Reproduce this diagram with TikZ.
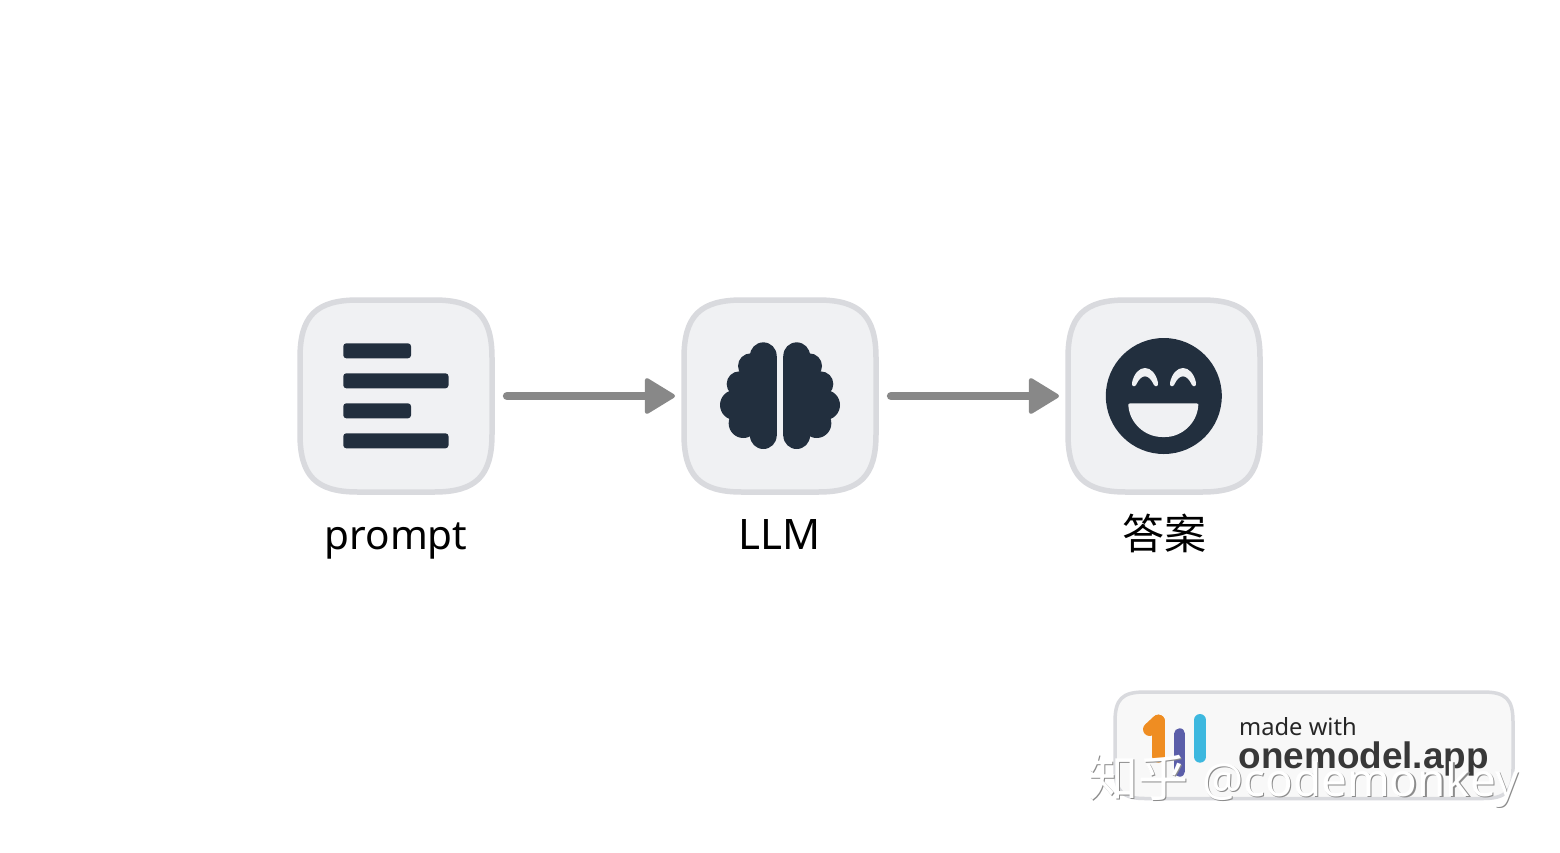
\documentclass[tikz,border=0pt]{standalone}
\usepackage{fontspec}
\setmainfont{Noto Sans}
\newfontfamily\cjkfont{Noto Sans CJK SC}
\newfontfamily\badgebold{Liberation Sans}
\usetikzlibrary{arrows.meta}
\definecolor{iconc}{HTML}{222F3E}
\definecolor{boxfill}{HTML}{F0F1F3}
\definecolor{boxline}{HTML}{D9DADE}
\definecolor{arrowc}{HTML}{888888}
\definecolor{badgefill}{HTML}{F8F8F8}
\definecolor{logoO}{HTML}{EF8D22}
\definecolor{logoP}{HTML}{5B5EA9}
\definecolor{logoC}{HTML}{3DB8DF}
\definecolor{wmshade}{HTML}{8C8C8C}
\tikzset{
  anchorbox/.style={minimum size=198pt,inner sep=0pt,outer sep=0pt},
  tilebox/.style={fill=boxfill,draw=boxline,line width=5.5pt},
  bar/.style={fill=iconc,draw=none,rounded corners=3pt},
  flow/.style={draw=arrowc,line width=8.3pt,line cap=round,shorten <=12pt,shorten >=6pt,
    -{Triangle[length=32pt,width=38pt,round,line width=4pt,fill=arrowc]}},
  caption/.style={anchor=base,inner sep=0pt,font=\fontsize{40.5}{48}\selectfont,text=black},
  tile/.pic={
    \draw[tilebox] (-96,-38) .. controls (-96,-80) and (-80,-96) .. (-38,-96)
      -- (38,-96) .. controls (80,-96) and (96,-80) .. (96,-38)
      -- (96,38) .. controls (96,80) and (80,96) .. (38,96)
      -- (-38,96) .. controls (-80,96) and (-96,80) .. (-96,38) -- cycle;
  },
  brainhalf/.pic={
    \fill[iconc] (212,228) circle (38);
    \fill[iconc] (178,282) circle (38);
    \fill[iconc] (165,345) circle (45);
    \fill[iconc] (190,400) circle (44);
    \fill[iconc] (190,230) rectangle (290,430);
    \fill[iconc] (250,197) circle (40);
    \fill[iconc] (250,437) circle (40);
    \fill[iconc] (250,197) rectangle (290,437);
  },
}
\begin{document}
\begin{tikzpicture}[x=1pt,y=-1pt]
\useasboundingbox (0,0) rectangle (1560,852);
\fill[white] (0,0) rectangle (1560,852);

% anchors
\node[anchorbox] (p) at (396,396) {};
\node[anchorbox] (l) at (780,396) {};
\node[anchorbox] (a) at (1164,396) {};

\pic at (396,396) {tile};
\pic at (780,396) {tile};
\pic at (1164,396) {tile};

% prompt icon
\fill[bar] (343.3,343.3) rectangle (411,358.3);
\fill[bar] (343.3,373.3) rectangle (448.5,388.3);
\fill[bar] (343.3,403.3) rectangle (411,418.3);
\fill[bar] (343.3,433.3) rectangle (448.5,448.3);

% brain icon
\begin{scope}[shift={(680,290)},x=.33333pt,y=-.33333pt]
  \pic {brainhalf};
\end{scope}
\begin{scope}[shift={(880,290)},x=-.33333pt,y=-.33333pt]
  \pic {brainhalf};
\end{scope}

% smile icon
\fill[iconc] (1163.8,396) circle (58);
\begin{scope}[shift={(1060,290)},x=.33333pt,y=-.33333pt]
  \fill[boxfill,rounded corners=1.5pt] (205,340) -- (415,340) -- (415,345) .. controls (410,400) and (365,441) .. (311,441)
     .. controls (255,441) and (210,400) .. (205,345) -- cycle;
  \fill[boxfill] (216,278) .. controls (222,250) and (238,234) .. (255,234)
     .. controls (272,234) and (288,250) .. (294,278)
     .. controls (296,290) and (286,292) .. (282,285)
     .. controls (274,268) and (265,259) .. (255,259)
     .. controls (245,259) and (236,268) .. (228,285)
     .. controls (224,292) and (214,290) .. (216,278) -- cycle;
  \fill[boxfill] (330,278) .. controls (336,250) and (352,234) .. (369,234)
     .. controls (386,234) and (402,250) .. (408,278)
     .. controls (410,290) and (400,292) .. (396,285)
     .. controls (388,268) and (379,259) .. (369,259)
     .. controls (359,259) and (350,268) .. (342,285)
     .. controls (338,292) and (328,290) .. (330,278) -- cycle;
\end{scope}

% connectors
\path[flow] (p.east) -- (l.west);
\path[flow] (l.east) -- (a.west);

% captions
\node[caption] (t1) at (396,549) {prompt};
\node[caption,font=\fontsize{42}{48}\selectfont] (t2) at (780,549) {LLM};
\node[caption,font=\cjkfont\fontsize{42}{48}\selectfont] (t3) at (1164,549) {答案};

% badge
\draw[fill=badgefill,draw=boxline,line width=3.5pt]
  (1115,722) .. controls (1115,699) and (1122,692) .. (1145,692)
  -- (1483,692) .. controls (1506,692) and (1513,699) .. (1513,722)
  -- (1513,768) .. controls (1513,791) and (1506,798.5) .. (1483,798.5)
  -- (1145,798.5) .. controls (1122,798.5) and (1115,791) .. (1115,768) -- cycle;
\begin{scope}[shift={(1080,680)},x=.33333pt,y=-.33333pt]
  \draw[logoO,line width=13.3pt,line cap=round,line join=round] (235,124) -- (209,148);
  \draw[logoO,line width=13.3pt,line cap=round] (235,124) -- (235,228);
  \draw[logoP,line width=10.8pt,line cap=round] (299,161) -- (299,274);
  \draw[logoC,line width=12pt,line cap=round] (360,120) -- (360,230);
\end{scope}
\node[anchor=base west,inner sep=0pt,text=black!85,font=\fontsize{23.7}{28}\selectfont] (mw) at (1239,735) {made with};
\node[anchor=base west,inner sep=0pt,text=black!78,font=\badgebold\bfseries\fontsize{36.9}{40}\selectfont] (om) at (1238.5,768) {onemodel.app};

% watermark
\node[anchor=base west,inner sep=0pt,text=wmshade,font=\cjkfont\fontsize{50}{56}\selectfont] (w1s) at (1089.5,797.5) {知乎};
\node[anchor=base west,inner sep=0pt,text=wmshade,font=\fontsize{45.8}{56}\selectfont] (w2s) at (1203.5,797.5) {@codemonkey};
\node[anchor=base west,inner sep=0pt,text=white,font=\cjkfont\fontsize{50}{56}\selectfont] (w1) at (1088,796) {知乎};
\node[anchor=base west,inner sep=0pt,text=white,font=\fontsize{45.8}{56}\selectfont] (w2) at (1202,796) {@codemonkey};
\end{tikzpicture}
\end{document}
